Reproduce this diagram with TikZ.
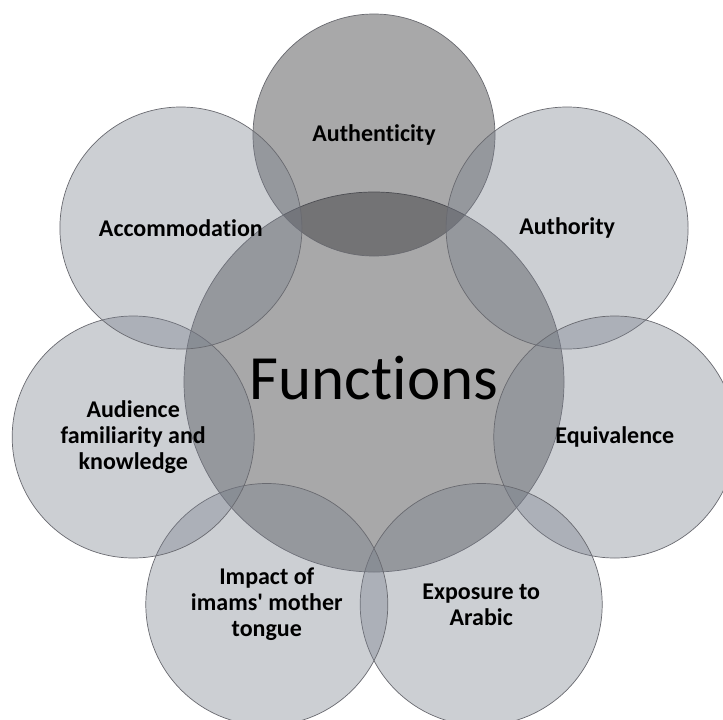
\documentclass[tikz,border=0pt]{standalone}
\usepackage{fontspec}
\setmainfont{Carlito}[Ligatures={TeX,NoCommon}]
\definecolor{darkfill}{RGB}{32,32,36}
\definecolor{lightfill}{RGB}{119,125,138}
\definecolor{rimcol}{RGB}{105,106,112}
\begin{document}
\begin{tikzpicture}[x=1pt,y=-1pt,
  bigcirc/.style={circle,draw=rimcol,line width=0.7pt,fill=darkfill,fill opacity=0.39,minimum size=380pt,inner sep=0pt},
  darkcirc/.style={circle,draw=rimcol,line width=0.7pt,fill=darkfill,fill opacity=0.39,minimum size=242pt,inner sep=0pt},
  lightcirc/.style={circle,draw=rimcol,line width=0.7pt,fill=lightfill,fill opacity=0.37,minimum size=242pt,inner sep=0pt},
  lbl/.style={align=center,font=\fontsize{24}{26}\selectfont\bfseries,text=black},
  mainlbl/.style={font=\fontsize{63}{70}\selectfont,text=black}]
\fill[white] (0,0) rectangle (723,720);
\clip (0,0) rectangle (723,720);
\node[bigcirc] (cen) at (374,382) {};
\node[darkcirc] (c1) at (374,135) {};
\node[lightcirc] (c2) at (567.1,228) {};
\node[lightcirc] (c3) at (614.8,437) {};
\node[lightcirc] (c4) at (481.2,604.5) {};
\node[lightcirc] (c5) at (266.8,604.5) {};
\node[lightcirc] (c6) at (133.2,437) {};
\node[lightcirc] (c7) at (180.9,228) {};
\node[mainlbl] (lcen) at (374,378) {Functions};
\node[lbl] (l1) at (c1.center) {Authenticity};
\node[lbl] (l2) at (c2.center) {Authority};
\node[lbl] (l3) at (c3.center) {Equivalence};
\node[lbl] (l4) at (c4.center) {Exposure to\\Arabic};
\node[lbl] (l5) at (c5.center) {Impact of\\imams\textquotesingle{} mother\\tongue};
\node[lbl] (l6) at (c6.center) {Audience\\familiarity and\\knowledge};
\node[lbl] (l7) at (c7.center) {Accommodation};
\end{tikzpicture}
\end{document}
